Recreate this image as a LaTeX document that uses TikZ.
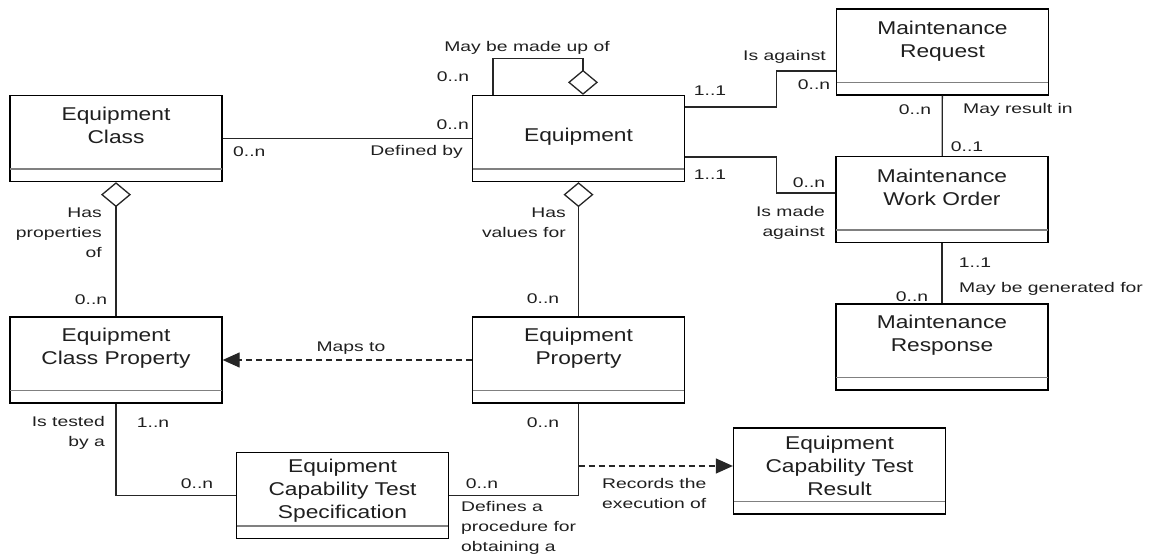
\documentclass[tikz,border=0pt]{standalone}
\usepackage{fontspec}
\setmainfont{Liberation Sans}
\newfontfamily\boxfont[FakeStretch=1.23]{Liberation Sans}
\newfontfamily\labfont[FakeStretch=1.38]{Liberation Sans}
\usetikzlibrary{arrows.meta,shapes.geometric}

\tikzset{
  classbox/.style={draw=black, line width=1.3pt, fill=white, minimum width=212pt,
    minimum height=86pt, inner sep=0pt},
  boxtext/.style={font=\boxfont\fontsize{18.5}{23}\selectfont, text=black!88,
    align=center, inner sep=0pt},
  lab/.style={font=\labfont\fontsize{14}{20}\selectfont, text=black!88, inner sep=0pt},
  divider/.style={draw=black!50, line width=1.6pt},
  assoc/.style={draw=black!85, line width=1.3pt},
  aggr/.style={assoc, {Diamond[open, length=25pt, width=30pt, line width=1.3pt]}-},
  aggrend/.style={assoc, -{Diamond[open, length=25pt, width=30pt, line width=1.3pt]}},
  dep/.style={draw=black!85, line width=1.3pt, dash pattern=on 6pt off 4pt,
    -{Triangle[length=17pt, width=15pt]}},
}

\begin{document}
\begin{tikzpicture}[x=1pt, y=-1pt]
\useasboundingbox (0,0) rectangle (1163,556);

% class boxes
\node[classbox] (cls)  at (116,138.5)   {};
\node[classbox] (eq)   at (578.5,138.5) {};
\node[classbox] (req)  at (942.5,52)    {};
\node[classbox] (wo)   at (942,199.5)   {};
\node[classbox] (resp) at (942,347)     {};
\node[classbox] (ep)   at (578.5,360)   {};
\node[classbox] (ecp)  at (116,360)     {};
\node[classbox] (spec) at (342.5,495.5) {};
\node[classbox] (res)  at (839.5,471)   {};

% attribute compartment dividers
\foreach \b in {cls,eq,req,wo,resp,ep,ecp,spec,res}
  \draw[divider] ([yshift=13pt,xshift=0.7pt]\b.south west) -- ([yshift=13pt,xshift=-0.7pt]\b.south east);

% class names
\node[boxtext] (cls-name)  at (116,125)     {Equipment\\Class};
\node[boxtext] (eq-name)   at (578.5,137)   {Equipment};
\node[boxtext] (req-name)  at (942.5,41)    {Maintenance\\Request};
\node[boxtext] (wo-name)   at (942,187.5)   {Maintenance\\Work Order};
\node[boxtext] (resp-name) at (942,335.5)   {Maintenance\\Response};
\node[boxtext] (ep-name)   at (578.5,348.5) {Equipment\\Property};
\node[boxtext] (ecp-name)  at (116,348.5)   {Equipment\\Class Property};
\node[boxtext] (spec-name) at (342.5,491)   {Equipment\\Capability Test\\Specification};
\node[boxtext] (res-name)  at (839.5,465.5) {Equipment\\Capability Test\\Result};

% associations
\draw[assoc] (cls) -- (eq);
\draw[aggrend] ([xshift=-85.5pt]eq.north) -- ++(0,-36) -| ([xshift=4.5pt]eq.north);
\draw[assoc] ([yshift=31.5pt]eq.east) -- ++(91,0) |- ([yshift=-19pt]req.west);
\draw[assoc] ([yshift=-18.5pt]eq.east) -- ++(91,0) |- ([yshift=6.5pt]wo.west);
\draw[assoc] (req) -- (wo);
\draw[assoc] (wo) -- (resp);
\draw[aggr] (cls) -- (ecp);
\draw[aggr] (eq) -- (ep);
\draw[assoc] (ecp.south) |- (spec.west);
\draw[assoc] (ep.south) |- (spec.east);

% dependencies
\draw[dep] (ep) -- (ecp);
\coordinate (rec) at (578.5,466);
\draw[dep] (rec) -- (rec -| res.west);

% association labels
\node[lab] (l-made)   at (527,48)  {May be made up of};
\node[lab] (l-self)   at (453,77)  {0..n};
\node[lab, anchor=east] (l-eqn) at (469,125) {0..n};
\node[lab, anchor=east] (l-def) at (463,152) {Defined by};
\node[lab, anchor=west] (l-cln) at (233,152) {0..n};
\node[lab] (l-11a)    at (710,91)  {1..1};
\node[lab] (l-against) at (784.5,57) {Is against};
\node[lab] (l-reqn)   at (814,85)  {0..n};
\node[lab] (l-11b)    at (710,175) {1..1};
\node[lab] (l-won)    at (809,183) {0..n};
\node[lab, anchor=east, align=right] (l-made-ag) at (825,222.5) {Is made\\against};
\node[lab] (l-rqn)    at (915,110) {0..n};
\node[lab, anchor=west] (l-result) at (963,110) {May result in};
\node[lab] (l-01)     at (967,147) {0..1};
\node[lab] (l-11c)    at (975,263) {1..1};
\node[lab, anchor=west] (l-gen) at (959,289) {May be generated for};
\node[lab] (l-respn)  at (912,297) {0..n};
\node[lab, anchor=east, align=right] (l-hasprop) at (102,233) {Has\\properties\\of};
\node[lab] (l-ecpn)   at (91,300)  {0..n};
\node[lab, anchor=east, align=right] (l-hasval) at (566,222.5) {Has\\values for};
\node[lab] (l-epn)    at (543,299) {0..n};
\node[lab] (l-maps)   at (351,348) {Maps to};
\node[lab, anchor=east, align=right] (l-tested) at (105,432.5) {Is tested\\by a};
\node[lab] (l-1n)     at (153,423) {1..n};
\node[lab] (l-specl)  at (197,484) {0..n};
\node[lab] (l-epn2)   at (543,423) {0..n};
\node[lab] (l-specr)  at (482,484) {0..n};
\node[lab, anchor=west, align=left] (l-defines) at (461,528) {Defines a\\procedure for\\obtaining a};
\node[lab, anchor=west, align=left] (l-records) at (602,493.5) {Records the\\execution of};
\end{tikzpicture}
\end{document}
